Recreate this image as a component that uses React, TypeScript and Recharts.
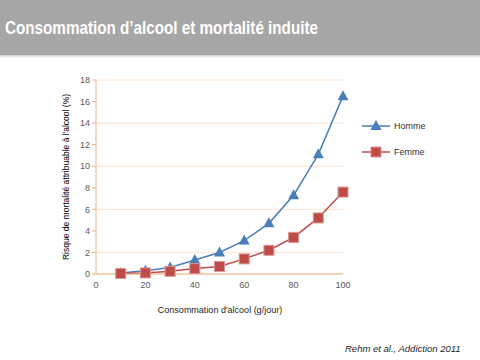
import React from 'react';
import { LineChart, Line, XAxis, YAxis, CartesianGrid } from 'recharts';

const doses = [10, 20, 30, 40, 50, 60, 70, 80, 90, 100];
const homme = [0.1, 0.3, 0.6, 1.3, 2.0, 3.1, 4.7, 7.3, 11.1, 16.5];
const femme = [0.05, 0.1, 0.25, 0.5, 0.7, 1.4, 2.2, 3.4, 5.2, 7.6];
const xTicks = [0, 20, 40, 60, 80, 100];
const yTicks = [0, 2, 4, 6, 8, 10, 12, 14, 16, 18];

const data = doses.map((d, i) => ({ dose: d, homme: homme[i], femme: femme[i] }));

const BLUE = '#4a7ebb';
const RED = '#be4b48';
const FONT = '"Liberation Sans", Arial, sans-serif';

const Triangle = (props: any) => {
    const { cx, cy, fill } = props;
    if (cx == null || cy == null) return null;
    return <path d={`M${cx},${cy - 6} L${cx + 5.5},${cy + 4} L${cx - 5.5},${cy + 4} Z`} fill={fill} />;
};

const Square = (props: any) => {
    const { cx, cy, fill } = props;
    if (cx == null || cy == null) return null;
    return <rect x={cx - 5} y={cy - 5} width={10} height={10} fill={fill} stroke="#d99694" strokeWidth={1} />;
};

// legend drawn as html so it doesn't shrink the plot area
const SeriesLegend = () => (
    <div style={{ position: 'absolute', left: 362, top: 113, fontFamily: FONT, fontSize: 9, color: '#333' }}>
        {[
            { name: 'Homme', color: BLUE, marker: 'tri' },
            { name: 'Femme', color: RED, marker: 'sq' },
        ].map((s) => (
            <div key={s.name} style={{ display: 'flex', alignItems: 'center', height: 26 }}>
                <svg width={30} height={14}>
                    <line x1={0} y1={7} x2={28} y2={7} stroke={s.color} strokeWidth={1.5} />
                    {s.marker === 'tri'
                        ? <path d="M14,1 L19.5,11 L8.5,11 Z" fill={s.color} />
                        : <rect x={9} y={2} width={10} height={10} fill={s.color} stroke="#d99694" />}
                </svg>
                <span style={{ marginLeft: 2 }}>{s.name}</span>
            </div>
        ))}
    </div>
);

export default function App() {
    return (
        <div style={{ position: 'absolute', left: 0, top: 0, width: 480, height: 360, background: '#fff', overflow: 'hidden' }}>
            {/* title bar */}
            <div style={{ position: 'absolute', left: 0, top: 0, width: 480, height: 55, background: '#a6a6a6' }} />
            <div style={{ position: 'absolute', left: 0, top: 55, width: 480, height: 3, background: 'linear-gradient(#cfcfcf, #ffffff)' }} />
            <svg width={480} height={55} style={{ position: 'absolute', left: 0, top: 0 }}>
                <text x={5} y={34} fill="#fff" fontFamily={FONT} fontWeight="bold" fontSize={19}
                    textLength={313} lengthAdjust="spacingAndGlyphs">
                    Consommation d’alcool et mortalité induite
                </text>
            </svg>

            <div style={{ position: 'absolute', left: 0, top: 0 }}>
                <LineChart width={480} height={360} data={data} margin={{ top: 80, right: 137, left: 60, bottom: 56 }}>
                    <CartesianGrid horizontal vertical={false} stroke="#fde4d0" />
                    <XAxis
                        dataKey="dose"
                        type="number"
                        domain={[0, 100]}
                        ticks={xTicks}
                        stroke="#f4b183"
                        tickLine={false}
                        tick={{ fontSize: 9, fill: '#595959', fontFamily: FONT }}
                        height={30}
                    />
                    <YAxis
                        type="number"
                        domain={[0, 18]}
                        ticks={yTicks}
                        stroke="#f4b183"
                        tickSize={4}
                        tick={{ fontSize: 9, fill: '#595959', fontFamily: FONT }}
                        width={36}
                        label={{
                            value: "Risque de mortalité attribuable à l'alcool (%)",
                            angle: -90,
                            position: 'insideLeft',
                            offset: 6,
                            style: { textAnchor: 'middle', fontSize: 8.5, fill: '#000', fontFamily: FONT },
                        }}
                    />
                    <Line
                        dataKey="homme"
                        name="Homme"
                        stroke={BLUE}
                        strokeWidth={1.5}
                        dot={<Triangle fill={BLUE} />}
                        isAnimationActive={false}
                    />
                    <Line
                        dataKey="femme"
                        name="Femme"
                        stroke={RED}
                        strokeWidth={1.5}
                        dot={<Square fill={RED} />}
                        isAnimationActive={false}
                    />
                </LineChart>
            </div>
            <SeriesLegend />

            <div style={{ position: 'absolute', left: 0, width: 440, top: 305, textAlign: 'center', fontFamily: FONT, fontSize: 9, color: '#262626' }}>
                Consommation d'alcool (g/jour)
            </div>
            <div style={{ position: 'absolute', left: 345, top: 343, fontFamily: FONT, fontSize: 9.5, fontStyle: 'italic', color: '#262626' }}>
                Rehm et al., Addiction 2011
            </div>
        </div>
    );
}
